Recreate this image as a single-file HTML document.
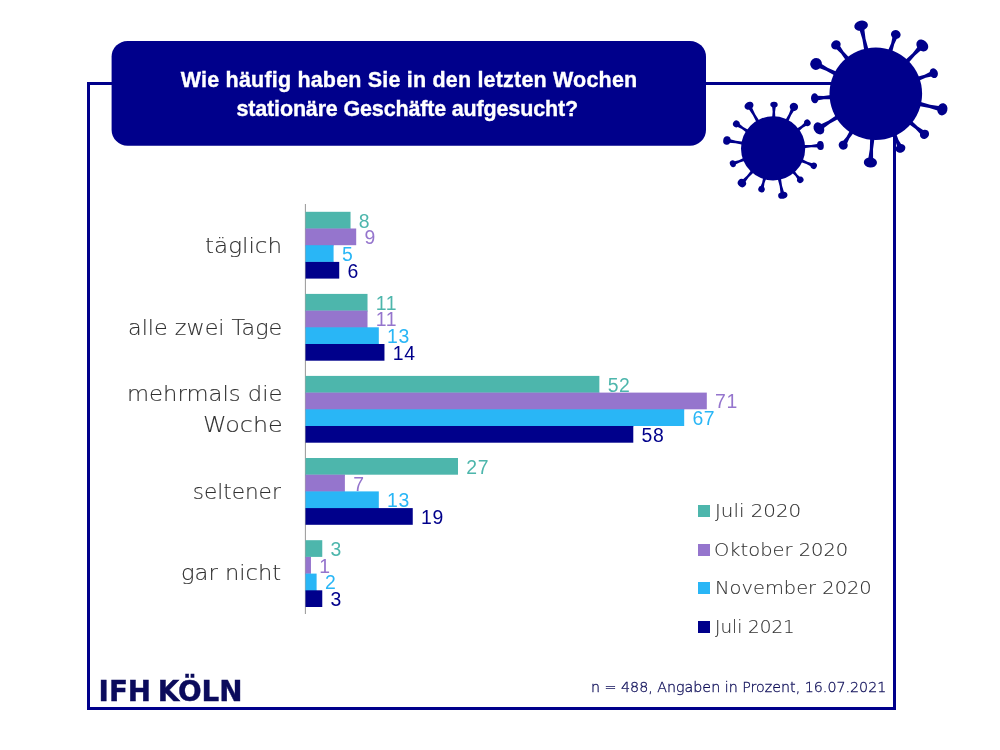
<!DOCTYPE html>
<html lang="de">
<head>
<meta charset="utf-8">
<title>Wie häufig haben Sie in den letzten Wochen stationäre Geschäfte aufgesucht?</title>
<style>
  html, body { margin: 0; padding: 0; background: #ffffff; }
  body { width: 1000px; height: 750px; position: relative; overflow: hidden;
         font-family: "Liberation Sans", sans-serif; }
  .t { position: absolute; margin: 0; white-space: nowrap; line-height: 1; transform-origin: 0 50%; }
  .frame { position: absolute; left: 87px; top: 82px; width: 809px; height: 628px;
           box-sizing: border-box; border: 3px solid #00008b; }
  .titlebox { position: absolute; left: 0; top: 0; width: 1000px; height: 190px; }
  h1 { margin: 0; font-size: inherit; font-weight: inherit; }
  .ttl { color: #ffffff; font-weight: 700; font-size: 21.5px; font-family: "Liberation Sans", sans-serif; -webkit-text-stroke: 0.35px #ffffff; }
  .virus { position: absolute; left: 0; top: 0; width: 1000px; height: 750px; }
  .bars { position: absolute; left: 0; top: 0; width: 1000px; height: 750px; }
  .val { font-weight: 400; font-size: 19.4px; font-family: "Liberation Sans", sans-serif; }
  .cat { color: #303030; font-weight: 200; font-size: 21.6px; font-family: "DejaVu Sans", "Liberation Sans", sans-serif; -webkit-text-stroke: 0.12px #303030; }
  .legend { margin: 0; padding: 0; list-style: none; }
  .legend i { position: absolute; left: 698px; width: 12px; height: 12px; }
  .leg { color: #303030; font-weight: 200; font-size: 18.2px; font-family: "DejaVu Sans", "Liberation Sans", sans-serif; -webkit-text-stroke: 0.1px #303030; }
  .logo { color: #0b0b5c; font-weight: 700; font-size: 27.8px; font-family: "DejaVu Sans", "Liberation Sans", sans-serif; word-spacing: -3px; -webkit-text-stroke: 0.4px #0b0b5c; }
  .note { color: #10105a; font-weight: 200; font-size: 14.7px; font-family: "DejaVu Sans", "Liberation Sans", sans-serif; -webkit-text-stroke: 0.3px #10105a; }
</style>
</head>
<body>
<div class="frame"></div>
<header>
  <svg class="titlebox" viewBox="0 0 1000 190" aria-hidden="true"><rect x="111.6" y="40.9" width="594.4" height="104.9" rx="16" ry="16" fill="#00008b"/></svg>
  <h1>
    <span id="ttl1" class="t ttl" style="left:180.83px;top:69.6px;letter-spacing:0.19px">Wie häufig haben Sie in den letzten Wochen</span>
    <span id="ttl2" class="t ttl" style="left:236.52px;top:99.4px;letter-spacing:-0.16px">stationäre Geschäfte aufgesucht?</span>
  </h1>
</header>
<svg class="virus" viewBox="0 0 1000 750" aria-hidden="true">
  <g fill="#00008b">
    <g>
      <circle cx="875.8" cy="93.7" r="46.3"/>
      <path d="M864.22 50.37 L862.41 39.35 L859.26 28.91 L864.11 27.86 L865.54 38.68 L868.45 49.46 Z"/>
      <ellipse cx="861.1" cy="25.7" rx="6.9" ry="5" transform="rotate(-12.2 861.1 25.7)"/>
      <path d="M888.09 50.57 L891.17 43.2 L892.68 36 L897.37 37.59 L894.2 44.23 L892.19 51.95 Z"/>
      <ellipse cx="895.8" cy="34.5" rx="4.9" ry="4.4" transform="rotate(18.67 895.8 34.5)"/>
      <path d="M905.35 59.96 L912.68 53.17 L918.53 45.84 L922.1 49.28 L914.98 55.39 L908.46 62.96 Z"/>
      <ellipse cx="922.3" cy="45.5" rx="6.6" ry="5.2" transform="rotate(43.97 922.3 45.5)"/>
      <path d="M917.32 76.73 L924.6 74.76 L930.9 71.59 L932.55 76.27 L925.66 77.77 L918.76 80.81 Z"/>
      <ellipse cx="933.8" cy="73.2" rx="5" ry="4" transform="rotate(70.53 933.8 73.2)"/>
      <path d="M919.91 101.81 L930.13 104.78 L940.29 106.26 L939.16 111.09 L929.4 107.9 L918.93 106.02 Z"/>
      <ellipse cx="942.4" cy="109.3" rx="6.2" ry="5" transform="rotate(103.18 942.4 109.3)"/>
      <path d="M911.59 120.73 L917.67 126.52 L924.23 130.85 L921.05 134.66 L915.62 128.98 L908.83 124.05 Z"/>
      <ellipse cx="924.5" cy="134.3" rx="4.8" ry="4.4" transform="rotate(129.82 924.5 134.3)"/>
      <path d="M896.21 133.64 L898.51 140.11 L901.81 145.27 L897.29 147.32 L895.6 141.43 L892.27 135.42 Z"/>
      <ellipse cx="900.5" cy="148.4" rx="5" ry="4.2" transform="rotate(155.7 900.5 148.4)"/>
      <path d="M874.45 138.53 L873.04 149.35 L873.09 159.95 L868.14 159.56 L869.85 149.1 L870.14 138.19 Z"/>
      <ellipse cx="870.4" cy="162.5" rx="6.6" ry="5" transform="rotate(184.49 870.4 162.5)"/>
      <path d="M853.66 132.71 L849.3 138.55 L846.59 144.48 L842.4 141.83 L846.6 136.84 L850.01 130.4 Z"/>
      <ellipse cx="843.2" cy="145.2" rx="4.6" ry="4.4" transform="rotate(212.33 843.2 145.2)"/>
      <path d="M838.68 118.87 L829.99 123.51 L822.54 129.09 L819.96 124.85 L828.33 120.78 L836.43 115.18 Z"/>
      <ellipse cx="818.9" cy="128.4" rx="6.4" ry="5" transform="rotate(238.62 818.9 128.4)"/>
      <path d="M831.29 99.22 L823.85 99.22 L816.92 100.62 L816.54 95.67 L823.61 96.02 L830.96 94.91 Z"/>
      <ellipse cx="814.7" cy="98.3" rx="5" ry="3.7" transform="rotate(265.69 814.7 98.3)"/>
      <path d="M834.75 75.62 L826.17 70.72 L817.85 67.54 L820.06 63.11 L827.6 67.85 L836.68 71.76 Z"/>
      <ellipse cx="816.1" cy="63.9" rx="6" ry="5.8" transform="rotate(-63.47 816.1 63.9)"/>
      <path d="M845.8 60.35 L841.03 53.62 L835.51 48.24 L839.35 45.11 L843.51 51.59 L849.15 57.62 Z"/>
      <ellipse cx="835.9" cy="44.8" rx="5" ry="4.4" transform="rotate(-39.21 835.9 44.8)"/>
    </g>
    <g>
      <circle cx="773.1" cy="148.4" r="32.1"/>
      <path d="M756.62 122.56 L752.92 115.17 L748.41 108.53 L751.65 106.7 L755.01 113.99 L759.44 120.97 Z"/>
      <ellipse cx="749" cy="105.8" rx="4.7" ry="3.8" transform="rotate(-29.5 749 105.8)"/>
      <path d="M772.11 117.77 L772.65 111.84 L772.11 106.1 L775.83 106.18 L775.05 111.89 L775.35 117.84 Z"/>
      <ellipse cx="774" cy="104.6" rx="3.7" ry="2.8" transform="rotate(1.18 774 104.6)"/>
      <path d="M785.34 120.31 L788.91 114.09 L791.23 107.99 L794.56 109.65 L791.06 115.16 L788.23 121.76 Z"/>
      <ellipse cx="793.9" cy="106.8" rx="4.2" ry="4.1" transform="rotate(26.57 793.9 106.8)"/>
      <path d="M796.65 128.8 L801.3 125.85 L804.92 122.33 L807.15 125.31 L802.74 127.78 L798.59 131.4 Z"/>
      <ellipse cx="807.4" cy="122.8" rx="3.4" ry="3.1" transform="rotate(53.26 807.4 122.8)"/>
      <path d="M803.55 144.97 L811.11 144.95 L818.42 143.85 L818.64 147.57 L811.26 147.34 L803.74 148.21 Z"/>
      <ellipse cx="820.4" cy="145.6" rx="4.5" ry="3.4" transform="rotate(86.61 820.4 145.6)"/>
      <path d="M801.87 158.94 L807.36 161.74 L812.96 163.42 L811.5 166.84 L806.42 163.95 L800.6 161.92 Z"/>
      <ellipse cx="813.8" cy="165.8" rx="3.3" ry="3.1" transform="rotate(113.15 813.8 165.8)"/>
      <path d="M794.32 170.5 L797.25 174.53 L800.63 177.44 L797.81 179.87 L795.43 176.1 L791.87 172.62 Z"/>
      <ellipse cx="800.3" cy="179.9" rx="3.4" ry="3" transform="rotate(139.19 800.3 179.9)"/>
      <path d="M780.88 178.04 L782.05 185.74 L784.24 193.09 L780.6 193.85 L779.7 186.23 L777.71 178.69 Z"/>
      <ellipse cx="782.8" cy="195.3" rx="4.7" ry="3.4" transform="rotate(168.31 782.8 195.3)"/>
      <path d="M766.31 178.28 L764.44 183.32 L763.75 188.17 L760.18 187.15 L762.13 182.67 L763.19 177.4 Z"/>
      <ellipse cx="761.5" cy="189.3" rx="3.3" ry="3.1" transform="rotate(195.83 761.5 189.3)"/>
      <path d="M753.85 172.24 L748.7 177.33 L744.72 182.75 L741.95 180.26 L746.91 175.73 L751.44 170.07 Z"/>
      <ellipse cx="741.9" cy="183.1" rx="4.3" ry="3.9" transform="rotate(221.96 741.9 183.1)"/>
      <path d="M745.07 160.78 L739.66 162.38 L734.95 164.87 L733.63 161.39 L738.8 160.14 L743.92 157.75 Z"/>
      <ellipse cx="732.8" cy="163.7" rx="3.5" ry="2.9" transform="rotate(249.21 732.8 163.7)"/>
      <path d="M742.66 144.84 L735.52 143.19 L728.59 142.68 L729.22 139.01 L735.92 140.83 L743.21 141.65 Z"/>
      <ellipse cx="726.9" cy="140.5" rx="4.3" ry="3.7" transform="rotate(-80.3 726.9 140.5)"/>
      <path d="M746.73 132.79 L741.87 129.05 L736.78 126.45 L738.84 123.36 L743.2 127.05 L748.53 130.09 Z"/>
      <ellipse cx="736.3" cy="123.9" rx="3.4" ry="3.3" transform="rotate(-56.35 736.3 123.9)"/>
    </g>
  </g>
</svg>
<main>
  <svg class="bars" viewBox="0 0 1000 750" aria-hidden="true">
    <rect x="304.9" y="204" width="0.9" height="410" fill="#8c8c8c"/>
    <rect x="305.5" y="211.8" width="45.04" height="16.7" fill="#4db6ac"/>
    <rect x="305.5" y="228.3" width="45.04" height="1.2" fill="#4db6ac"/>
    <rect x="305.5" y="228.5" width="50.7" height="16.7" fill="#9575cd"/>
    <rect x="305.5" y="245" width="28.08" height="1.2" fill="#9575cd"/>
    <rect x="305.5" y="245.2" width="28.08" height="16.7" fill="#29b6f6"/>
    <rect x="305.5" y="261.7" width="28.08" height="1.2" fill="#29b6f6"/>
    <rect x="305.5" y="261.9" width="33.73" height="16.7" fill="#00008b"/>
    <rect x="305.5" y="293.9" width="62.01" height="16.7" fill="#4db6ac"/>
    <rect x="305.5" y="310.4" width="62.01" height="1.2" fill="#4db6ac"/>
    <rect x="305.5" y="310.6" width="62.01" height="16.7" fill="#9575cd"/>
    <rect x="305.5" y="327.1" width="62.01" height="1.2" fill="#9575cd"/>
    <rect x="305.5" y="327.3" width="73.31" height="16.7" fill="#29b6f6"/>
    <rect x="305.5" y="343.8" width="73.31" height="1.2" fill="#29b6f6"/>
    <rect x="305.5" y="344" width="78.97" height="16.7" fill="#00008b"/>
    <rect x="305.5" y="375.9" width="293.86" height="16.7" fill="#4db6ac"/>
    <rect x="305.5" y="392.4" width="293.86" height="1.2" fill="#4db6ac"/>
    <rect x="305.5" y="392.6" width="401.31" height="16.7" fill="#9575cd"/>
    <rect x="305.5" y="409.1" width="378.69" height="1.2" fill="#9575cd"/>
    <rect x="305.5" y="409.3" width="378.69" height="16.7" fill="#29b6f6"/>
    <rect x="305.5" y="425.8" width="327.79" height="1.2" fill="#29b6f6"/>
    <rect x="305.5" y="426" width="327.79" height="16.7" fill="#00008b"/>
    <rect x="305.5" y="458" width="152.49" height="16.7" fill="#4db6ac"/>
    <rect x="305.5" y="474.5" width="39.38" height="1.2" fill="#4db6ac"/>
    <rect x="305.5" y="474.7" width="39.38" height="16.7" fill="#9575cd"/>
    <rect x="305.5" y="491.2" width="39.38" height="1.2" fill="#9575cd"/>
    <rect x="305.5" y="491.4" width="73.31" height="16.7" fill="#29b6f6"/>
    <rect x="305.5" y="507.9" width="73.31" height="1.2" fill="#29b6f6"/>
    <rect x="305.5" y="508.1" width="107.25" height="16.7" fill="#00008b"/>
    <rect x="305.5" y="540.2" width="16.77" height="16.7" fill="#4db6ac"/>
    <rect x="305.5" y="556.7" width="5.46" height="1.2" fill="#4db6ac"/>
    <rect x="305.5" y="556.9" width="5.46" height="16.7" fill="#9575cd"/>
    <rect x="305.5" y="573.4" width="5.46" height="1.2" fill="#9575cd"/>
    <rect x="305.5" y="573.6" width="11.11" height="16.7" fill="#29b6f6"/>
    <rect x="305.5" y="590.1" width="11.11" height="1.2" fill="#29b6f6"/>
    <rect x="305.5" y="590.3" width="16.77" height="16.7" fill="#00008b"/>
  </svg>
  <section>
    <div id="cat0" class="t cat" style="left:205.19px;top:235.3px;transform:scaleX(1.0671)">täglich</div>
    <div id="v00" class="t val" style="left:358.84px;top:211.65px;letter-spacing:0.6px;color:#4db6ac">8</div>
    <div id="v01" class="t val" style="left:364.5px;top:228.35px;letter-spacing:0.6px;color:#9575cd">9</div>
    <div id="v02" class="t val" style="left:341.88px;top:245.05px;letter-spacing:0.6px;color:#29b6f6">5</div>
    <div id="v03" class="t val" style="left:347.53px;top:261.75px;letter-spacing:0.6px;color:#00008b">6</div>
  </section>
  <section>
    <div id="cat1" class="t cat" style="left:128.06px;top:316.6px;transform:scaleX(1.0306)">alle zwei Tage</div>
    <div id="v10" class="t val" style="left:375.81px;top:293.75px;letter-spacing:0.6px;color:#4db6ac">11</div>
    <div id="v11" class="t val" style="left:375.81px;top:310.45px;letter-spacing:0.6px;color:#9575cd">11</div>
    <div id="v12" class="t val" style="left:387.12px;top:327.15px;letter-spacing:0.6px;color:#29b6f6">13</div>
    <div id="v13" class="t val" style="left:392.77px;top:343.85px;letter-spacing:0.6px;color:#00008b">14</div>
  </section>
  <section>
    <div id="cat2" class="t cat" style="left:126.95px;top:383px;transform:scaleX(1.0512)">mehrmals die</div>
    <div id="cat3" class="t cat" style="left:203.05px;top:413.71px;transform:scaleX(1.1049)">Woche</div>
    <div id="v20" class="t val" style="left:607.66px;top:375.75px;letter-spacing:0.6px;color:#4db6ac">52</div>
    <div id="v21" class="t val" style="left:715.11px;top:392.45px;letter-spacing:0.6px;color:#9575cd">71</div>
    <div id="v22" class="t val" style="left:692.48px;top:409.15px;letter-spacing:0.6px;color:#29b6f6">67</div>
    <div id="v23" class="t val" style="left:641.59px;top:425.85px;letter-spacing:0.6px;color:#00008b">58</div>
  </section>
  <section>
    <div id="cat4" class="t cat" style="left:192.64px;top:480.5px">seltener</div>
    <div id="v30" class="t val" style="left:466.29px;top:457.85px;letter-spacing:0.6px;color:#4db6ac">27</div>
    <div id="v31" class="t val" style="left:353.19px;top:474.55px;letter-spacing:0.6px;color:#9575cd">7</div>
    <div id="v32" class="t val" style="left:387.12px;top:491.25px;letter-spacing:0.6px;color:#29b6f6">13</div>
    <div id="v33" class="t val" style="left:421.05px;top:507.95px;letter-spacing:0.6px;color:#00008b">19</div>
  </section>
  <section>
    <div id="cat5" class="t cat" style="left:181.2px;top:562.21px;transform:scaleX(1.048)">gar nicht</div>
    <div id="v40" class="t val" style="left:330.56px;top:540.05px;letter-spacing:0.6px;color:#4db6ac">3</div>
    <div id="v41" class="t val" style="left:319.25px;top:556.75px;letter-spacing:0.6px;color:#9575cd">1</div>
    <div id="v42" class="t val" style="left:324.91px;top:573.45px;letter-spacing:0.6px;color:#29b6f6">2</div>
    <div id="v43" class="t val" style="left:330.56px;top:590.15px;letter-spacing:0.6px;color:#00008b">3</div>
  </section>
</main>
<ul class="legend">
  <li><i style="top:505.3px;background:#4db6ac"></i><span id="leg0" class="t leg" style="left:715.43px;top:502.4px;transform:scaleX(1.0907)">Juli 2020</span></li>
  <li><i style="top:543.9px;background:#9575cd"></i><span id="leg1" class="t leg" style="left:714.2px;top:541.01px;transform:scaleX(1.0703)">Oktober 2020</span></li>
  <li><i style="top:582.4px;background:#29b6f6"></i><span id="leg2" class="t leg" style="left:715px;top:579.41px;transform:scaleX(1.0685)">November 2020</span></li>
  <li><i style="top:620.9px;background:#00008b"></i><span id="leg3" class="t leg" style="left:715.19px;top:618.01px;transform:scaleX(1.009)">Juli 2021</span></li>
</ul>
<footer>
  <div id="logo" class="t logo" style="left:98.6px;top:677.5px;letter-spacing:-0.04px">IFH KÖLN</div>
  <div id="note" class="t note" style="left:590.63px;top:679.8px;transform:scaleX(0.97)">n = 488, Angaben in Prozent, 16.07.2021</div>
</footer>
</body>
</html>
